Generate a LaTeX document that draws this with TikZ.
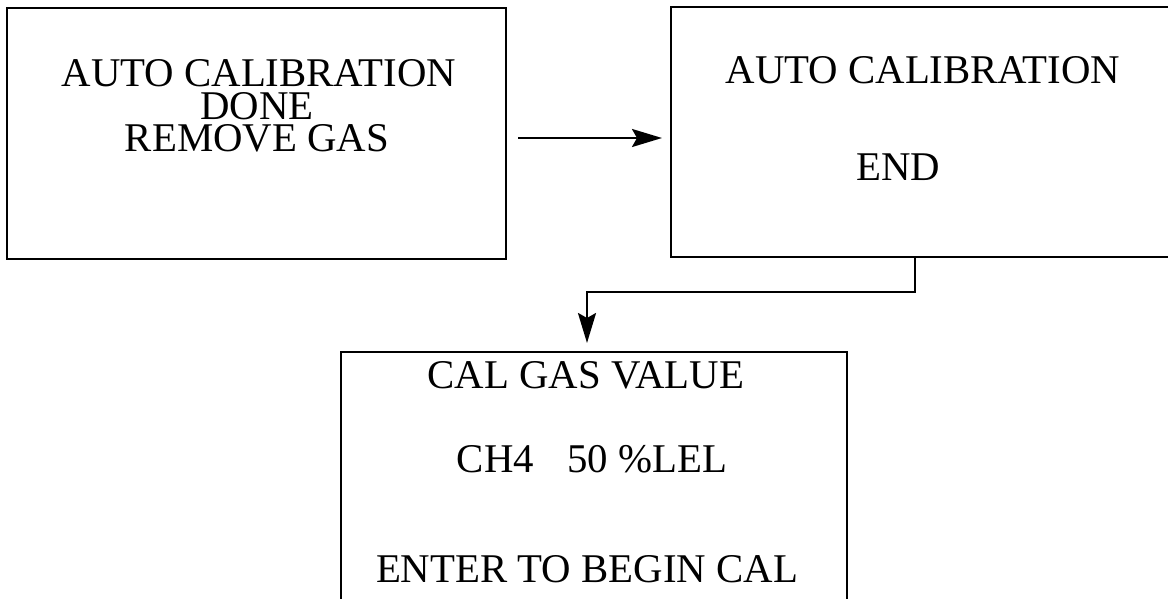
\documentclass[tikz,border=0pt]{standalone}
\usepackage{fontspec}
\setmainfont{Liberation Serif}
\usepackage{tikz}
\usetikzlibrary{arrows.meta,positioning}
\tikzset{
  % Screen boxes
  scrbox/.style={rectangle, draw=black, line width=2.7pt, fill=none,
                 inner sep=0pt, outer sep=0pt},
  thinbox/.style={scrbox, line width=2pt},
  % Screen text, placed on its baseline
  scrtxt/.style={font=\fontsize{40.8}{32}\selectfont, anchor=base,
                 text height=27pt, text depth=0pt,
                 inner sep=0pt, outer sep=0pt},
  % Arrows
  arr/.style={-{Stealth[length=30pt,width=18pt,inset=5pt]},
              line width=2.4pt, draw=black},
}
\begin{document}
\begin{tikzpicture}[x=1pt,y=-1pt]
  \useasboundingbox (0,0) rectangle (1168,599);
  \clip (0,0) rectangle (1168,599);

    % ── Screen 1 ─────────────────────────────────────────
    \node[scrbox, minimum width=499pt, minimum height=251pt]
          (donebox) at (256.5,133.5) {};
    \node[scrtxt] (done1) at (259,87)    {AUTO CALIBRATION};
    \node[scrtxt] (done2) at (257,119.5) {DONE};
    \node[scrtxt] (done3) at (257,152)   {REMOVE GAS};

    % ── Screen 2 ─────────────────────────────────────────
    \node[scrbox, minimum width=504pt, minimum height=250pt]
          (endbox) at (923,132) {};
    \node[scrtxt] (end1) at (923,84)  {AUTO CALIBRATION};
    \node[scrtxt] (end2) at (898,181) {END};

    % ── Screen 3 ─────────────────────────────────────────
    \node[thinbox, minimum width=506pt, minimum height=258pt]
          (calbox) at (594,481) {};
    \node[scrtxt] (cal1) at (586,388) {CAL GAS VALUE};
    \node[scrtxt] (cal2) at (592,472) {CH4\hspace{0.82em}50 \%LEL};
    \node[scrtxt] (cal3) at (587,582) {ENTER TO BEGIN CAL};

    % ── Arrows ───────────────────────────────────────────
    \draw[arr, shorten <=12pt, shorten >=9pt]
          (donebox.east |- 0,138) -- (endbox.west |- 0,138);
    \draw[arr, shorten >=9pt]
          ([xshift=-8pt]endbox.south) -- ++(0,35)
          -| ([xshift=-7pt]calbox.north);

  \end{tikzpicture}
\end{document}
